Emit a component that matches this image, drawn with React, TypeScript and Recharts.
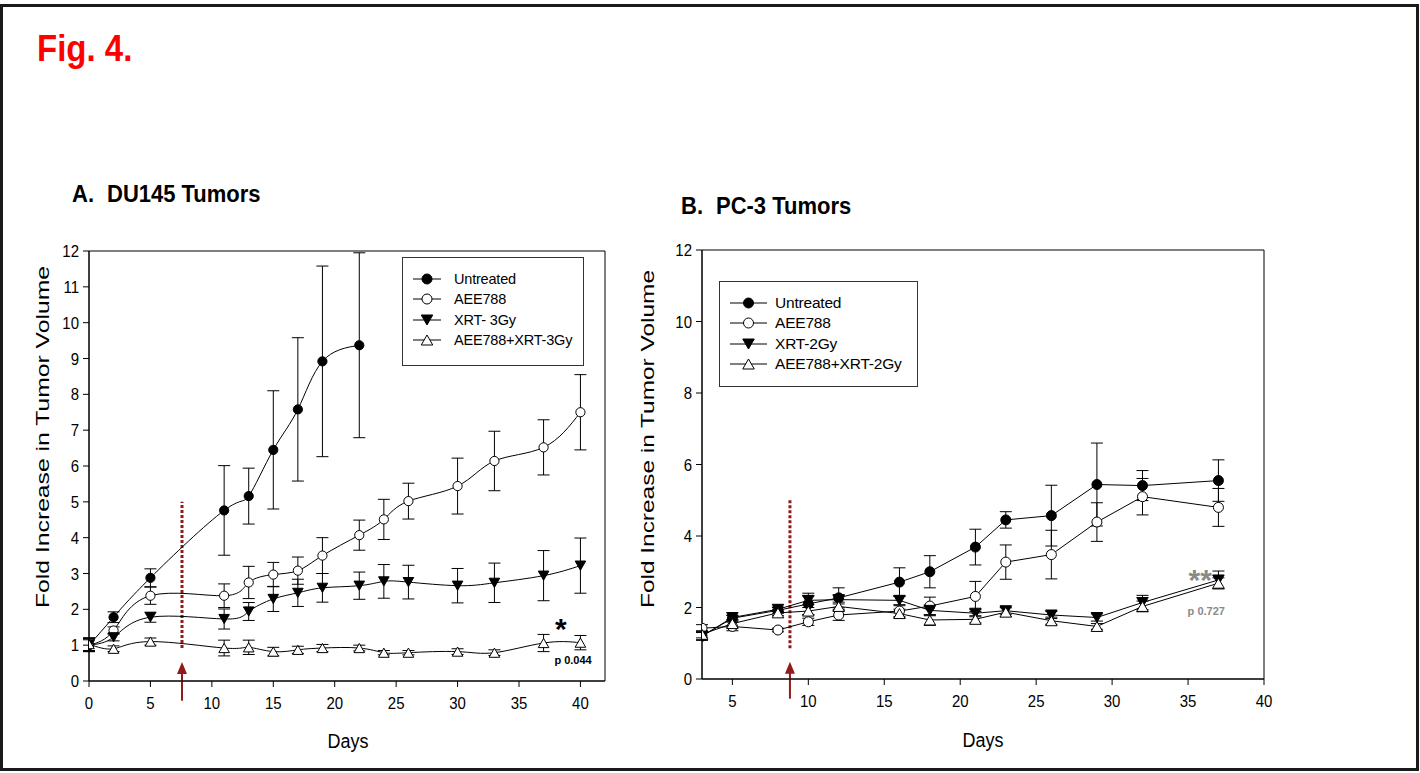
import React from "react";
import { LineChart, Line, XAxis, YAxis, ErrorBar, ReferenceLine, ReferenceArea, ReferenceDot } from "recharts";

const FONT = '"Liberation Sans", Arial, Helvetica, sans-serif';

// ---- Panel A: DU145 tumors ----
const daysA = [0, 2, 5, 11, 13, 15, 17, 19, 22, 24, 26, 30, 33, 37, 40];
const untreatedA = [1.0, 1.78, 2.88, 4.76, 5.16, 6.45, 7.58, 8.92, 9.37];
const untreatedAErr = [0.18, 0.15, 0.25, 1.25, 0.78, 1.65, 2.0, 2.66, 2.58];
const aeeA = [1.0, 1.41, 2.38, 2.38, 2.75, 2.97, 3.08, 3.5, 4.07, 4.51, 5.02, 5.44, 6.14, 6.52, 7.5];
const aeeAErr = [0.18, 0.1, 0.24, 0.33, 0.45, 0.34, 0.38, 0.5, 0.42, 0.56, 0.5, 0.78, 0.83, 0.77, 1.05];
const xrtA = [1.0, 1.22, 1.78, 1.73, 1.94, 2.29, 2.46, 2.6, 2.66, 2.78, 2.76, 2.66, 2.74, 2.94, 3.22];
const xrtAErr = [0.15, 0.1, 0.14, 0.28, 0.25, 0.35, 0.38, 0.4, 0.38, 0.47, 0.47, 0.48, 0.55, 0.7, 0.77];
const comboA = [1.03, 0.9, 1.1, 0.92, 0.94, 0.82, 0.87, 0.92, 0.92, 0.79, 0.79, 0.82, 0.79, 1.06, 1.07];
const comboAErr = [0.18, 0.08, 0.1, 0.22, 0.2, 0.12, 0.1, 0.1, 0.08, 0.06, 0.06, 0.08, 0.08, 0.24, 0.2];
const xTicksA = [0, 5, 10, 15, 20, 25, 30, 35, 40];
const yTicksA = [0, 1, 2, 3, 4, 5, 6, 7, 8, 9, 10, 11, 12];
const legendA = ["Untreated", "AEE788", "XRT- 3Gy", "AEE788+XRT-3Gy"];

// ---- Panel B: PC-3 tumors ----
const daysB = [3, 5, 8, 10, 12, 16, 18, 21, 23, 26, 29, 32, 37];
const untreatedB = [1.2, 1.7, 1.92, 2.1, 2.27, 2.71, 3.0, 3.69, 4.45, 4.57, 5.44, 5.41, 5.55];
const untreatedBErr = [0.1, 0.08, 0.08, 0.3, 0.28, 0.4, 0.45, 0.5, 0.23, 0.85, 1.16, 0.42, 0.58];
const aeeB = [1.42, 1.47, 1.37, 1.6, 1.79, 1.9, 2.04, 2.31, 3.27, 3.48, 4.39, 5.1, 4.8];
const aeeBErr = [0.1, 0.12, 0.05, 0.1, 0.15, 0.15, 0.25, 0.42, 0.48, 0.68, 0.54, 0.51, 0.53];
const xrtB = [1.2, 1.72, 1.95, 2.2, 2.22, 2.2, 1.92, 1.84, 1.91, 1.79, 1.72, 2.14, 2.77];
const xrtBErr = [0.12, 0.06, 0.06, 0.12, 0.12, 0.12, 0.15, 0.1, 0.1, 0.1, 0.1, 0.2, 0.25];
const comboB = [1.25, 1.55, 1.85, 1.9, 2.03, 1.83, 1.65, 1.67, 1.87, 1.63, 1.47, 2.03, 2.68];
const comboBErr = [0.1, 0.1, 0.08, 0.1, 0.12, 0.12, 0.15, 0.1, 0.12, 0.1, 0.08, 0.15, 0.15];
const xTicksB = [5, 10, 15, 20, 25, 30, 35, 40];
const yTicksB = [0, 2, 4, 6, 8, 10, 12];
const legendB = ["Untreated", "AEE788", "XRT-2Gy", "AEE788+XRT-2Gy"];

const MARKERS = ["filledCircle", "openCircle", "filledDown", "openUp"];
const ARROW_RED = "#931a1a";

const toPoints = (days: number[], vals: number[], errs: number[]) =>
  vals.map((v, i) => ({ day: days[i], v, e: errs[i] }));

function Marker({ kind, cx, cy, r }: { kind: string; cx: number; cy: number; r: number }) {
  const w = r * 2.3;
  const h = r * 2.0;
  if (kind === "filledCircle") return <circle cx={cx} cy={cy} r={r} fill="#000" stroke="#000" strokeWidth={1} />;
  if (kind === "openCircle") return <circle cx={cx} cy={cy} r={r} fill="#fff" stroke="#000" strokeWidth={1} />;
  if (kind === "filledDown")
    return (
      <polygon
        points={`${cx - w / 2},${cy - h / 2} ${cx + w / 2},${cy - h / 2} ${cx},${cy + h / 2}`}
        fill="#000"
        stroke="#000"
        strokeWidth={1}
      />
    );
  return (
    <polygon
      points={`${cx - w / 2},${cy + h / 2} ${cx + w / 2},${cy + h / 2} ${cx},${cy - h / 2}`}
      fill="#fff"
      stroke="#000"
      strokeWidth={1}
    />
  );
}

const dotOf = (kind: string, r: number) => (p: any) =>
  p.cx == null ? <g key={p.index} /> : <Marker key={p.index} kind={kind} cx={p.cx} cy={p.cy} r={r} />;

const XTick = ({ x, y, payload }: any) => (
  <g transform={`translate(${x},${y})`}>
    <text transform="scale(1,1.12)" textAnchor="middle" dy="0.71em" fill="#000" fontSize={15} fontFamily={FONT}>
      {payload.value}
    </text>
  </g>
);

const YTick = ({ x, y, payload }: any) => (
  <g transform={`translate(${x},${y})`}>
    <text transform="scale(1,1.12)" textAnchor="end" dy="0.36em" fill="#000" fontSize={15} fontFamily={FONT}>
      {payload.value}
    </text>
  </g>
);

const Arrow = (p: any) => {
  const tipY = Math.min(p.y1, p.y2);
  const endY = Math.max(p.y1, p.y2);
  const x = p.x1;
  return (
    <g>
      <line x1={x} y1={tipY + 8} x2={x} y2={endY} stroke={ARROW_RED} strokeWidth={2} />
      <polygon points={`${x - 5},${tipY + 12} ${x + 5},${tipY + 12} ${x},${tipY}`} fill={ARROW_RED} />
    </g>
  );
};

const TextMark = (text: string, size: number, color: string) => (p: any) => (
  <text x={p.cx} y={p.cy} textAnchor="middle" fontSize={size} fontWeight="bold" fill={color} fontFamily={FONT}>
    {text}
  </text>
);

function LegendBox({ labels, left, top, width, height, lineW, gap, fontSize, r }: any) {
  return (
    <div
      style={{
        position: "absolute",
        left,
        top,
        width,
        height,
        boxSizing: "border-box",
        border: "1px solid #333",
        background: "#fff",
        paddingTop: 11,
        paddingLeft: 10,
        fontFamily: FONT,
        fontSize,
        color: "#000",
      }}
    >
      {labels.map((lab: string, i: number) => (
        <div key={lab} style={{ display: "flex", alignItems: "center", height: 20.3 }}>
          <svg width={lineW} height={20} style={{ flex: "none" }}>
            <line x1={0} y1={10} x2={lineW} y2={10} stroke="#000" strokeWidth={1} />
            <Marker kind={MARKERS[i]} cx={lineW / 2} cy={10} r={r} />
          </svg>
          <span style={{ marginLeft: gap, whiteSpace: "nowrap", letterSpacing: -0.2 }}>{lab}</span>
        </div>
      ))}
    </div>
  );
}

type Series = { data: { day: number; v: number; e: number }[]; kind: string };

function Panel({
  series,
  xDomain,
  xTicks,
  yTicks,
  curve,
  r,
  width,
  height,
  margin,
  arrowX,
  dashFrom,
  arrowTip,
  notes,
}: any) {
  return (
    <LineChart width={width} height={height} margin={margin}>
      <XAxis
        type="number"
        dataKey="day"
        domain={xDomain}
        ticks={xTicks}
        allowDataOverflow
        height={70}
        tickSize={6}
        tickMargin={10}
        tick={<XTick />}
        axisLine={{ stroke: "#000" }}
        tickLine={{ stroke: "#000" }}
      />
      <YAxis
        type="number"
        domain={[0, 12]}
        ticks={yTicks}
        width={60}
        tickSize={6}
        tickMargin={4}
        tick={<YTick />}
        axisLine={{ stroke: "#000" }}
        tickLine={{ stroke: "#000" }}
      />
      <ReferenceArea x1={xDomain[0]} x2={xDomain[1]} y1={0} y2={12} fill="none" stroke="#000" strokeWidth={1} />
      <ReferenceLine
        segment={[{ x: arrowX, y: dashFrom }, { x: arrowX, y: 5 }]}
        stroke={ARROW_RED}
        strokeWidth={3}
        strokeDasharray="3 2"
      />
      <ReferenceLine
        segment={[{ x: arrowX, y: -0.55 }, { x: arrowX, y: arrowTip }]}
        ifOverflow="visible"
        shape={Arrow}
      />
      {series.map((s: Series, i: number) => (
        <Line
          key={i}
          data={s.data}
          dataKey="v"
          type={curve}
          stroke="#000"
          strokeWidth={1}
          dot={dotOf(s.kind, r)}
          activeDot={false}
          isAnimationActive={false}
        >
          <ErrorBar dataKey="e" direction="y" width={6} stroke="#000" strokeWidth={1} />
        </Line>
      ))}
      {notes.map((n: any, i: number) => (
        <ReferenceDot key={i} x={n.x} y={n.y} r={0} ifOverflow="visible" shape={TextMark(n.text, n.size, n.color)} />
      ))}
    </LineChart>
  );
}

const seriesA: Series[] = [
  { data: toPoints(daysA, untreatedA, untreatedAErr), kind: MARKERS[0] },
  { data: toPoints(daysA, aeeA, aeeAErr), kind: MARKERS[1] },
  { data: toPoints(daysA, xrtA, xrtAErr), kind: MARKERS[2] },
  { data: toPoints(daysA, comboA, comboAErr), kind: MARKERS[3] },
];
const seriesB: Series[] = [
  { data: toPoints(daysB, untreatedB, untreatedBErr), kind: MARKERS[0] },
  { data: toPoints(daysB, aeeB, aeeBErr), kind: MARKERS[1] },
  { data: toPoints(daysB, xrtB, xrtBErr), kind: MARKERS[2] },
  { data: toPoints(daysB, comboB, comboBErr), kind: MARKERS[3] },
];

const notesA = [
  { x: 38.4, y: 1.16, text: "*", size: 30, color: "#000" },
  { x: 39.4, y: 0.48, text: "p 0.044", size: 11, color: "#000" },
];
const notesB = [
  { x: 35.8, y: 2.5, text: "**", size: 30, color: "#8a8a8a" },
  { x: 36.2, y: 1.79, text: "p 0.727", size: 11, color: "#8a8a8a" },
];

export default function App() {
  return (
    <div style={{ position: "absolute", left: 0, top: 0, width: 1420, height: 773, background: "#fff", fontFamily: FONT }}>
      <div
        style={{
          position: "absolute",
          left: 0,
          top: 4,
          width: 1419,
          height: 767,
          boxSizing: "border-box",
          border: "3px solid #1a1a1a",
        }}
      />
      <div style={{ position: "absolute", left: 0, top: 230 }}>
        <Panel
          series={seriesA}
          xDomain={[0, 42]}
          xTicks={xTicksA}
          yTicks={yTicksA}
          curve="natural"
          r={4.6}
          width={620}
          height={521}
          margin={{ top: 21, right: 15, left: 29, bottom: 0 }}
          arrowX={7.57}
          dashFrom={0.92}
          arrowTip={0.53}
          notes={notesA}
        />
      </div>
      <div style={{ position: "absolute", left: 620, top: 229 }}>
        <Panel
          series={seriesB}
          xDomain={[3, 40]}
          xTicks={xTicksB}
          yTicks={yTicksB}
          curve="linear"
          r={5}
          width={660}
          height={520}
          margin={{ top: 21, right: 16, left: 22, bottom: 0 }}
          arrowX={8.79}
          dashFrom={0.86}
          arrowTip={0.48}
          notes={notesB}
        />
      </div>
      <LegendBox labels={legendA} left={402} top={257} width={182} height={109} lineW={28} gap={13} fontSize={14.5} r={5} />
      <LegendBox labels={legendB} left={719} top={281} width={199} height={106} lineW={37} gap={8} fontSize={15.5} r={5} />
      <svg width={1420} height={773} style={{ position: "absolute", left: 0, top: 0, pointerEvents: "none" }}>
        <g fontFamily={FONT}>
          <text transform="translate(37,60.5) scale(1,1.14)" fontSize={33} fontWeight="bold" fill="#ff0000">
            Fig. 4.
          </text>
          <text transform="translate(72,202) scale(1,1.1)" fontSize={22} fontWeight="bold" fill="#000">
            A.
          </text>
          <text transform="translate(107,202) scale(1,1.1)" fontSize={22} fontWeight="bold" fill="#000">
            DU145 Tumors
          </text>
          <text transform="translate(681,214) scale(1,1.1)" fontSize={22} fontWeight="bold" fill="#000">
            B.
          </text>
          <text transform="translate(716,214) scale(1,1.1)" fontSize={22} fontWeight="bold" fill="#000">
            PC-3 Tumors
          </text>
          <text transform="translate(48.5,437) rotate(-90)" textAnchor="middle" fontSize={18} fill="#000" textLength={342} lengthAdjust="spacingAndGlyphs">
            Fold Increase in Tumor Volume
          </text>
          <text transform="translate(654,439) rotate(-90)" textAnchor="middle" fontSize={18} fill="#000" textLength={338} lengthAdjust="spacingAndGlyphs">
            Fold Increase in Tumor Volume
          </text>
          <text transform="translate(348,748) scale(1,1.1)" textAnchor="middle" fontSize={18} fill="#000">
            Days
          </text>
          <text transform="translate(983,747) scale(1,1.1)" textAnchor="middle" fontSize={18} fill="#000">
            Days
          </text>
        </g>
      </svg>
    </div>
  );
}
